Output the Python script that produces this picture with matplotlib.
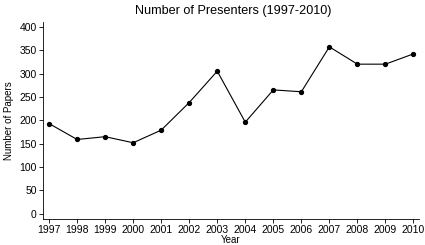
import matplotlib
matplotlib.use('Agg')
import matplotlib.pyplot as plt

# data
years = [1997, 1998, 1999, 2000, 2001, 2002, 2003, 2004, 2005, 2006, 2007, 2008, 2009, 2010]
presenters = [193, 159, 165, 152, 179, 238, 305, 196, 265, 261, 357, 320, 320, 342]
yticks = [0, 50, 100, 150, 200, 250, 300, 350, 400]

plt.rcParams['font.family'] = ['Liberation Sans', 'DejaVu Sans']

fig = plt.figure(figsize=(4.25, 2.45), dpi=100)
ax = fig.add_axes([0.101, 0.106, 0.885, 0.804])

ax.plot(years, presenters, color='black', linewidth=0.8, marker='o', markersize=2.8)

ax.set_xlim(1996.78, 2010.2)
ax.set_ylim(-11, 410)
ax.set_xticks(years)
ax.set_yticks(yticks)
ax.tick_params(labelsize=7.5, length=3, width=0.6, pad=1.5)

ax.spines['top'].set_visible(False)
ax.spines['right'].set_visible(False)
ax.spines['left'].set_linewidth(0.6)
ax.spines['bottom'].set_linewidth(0.6)

ax.set_xlabel('Year', fontsize=7, labelpad=-0.5)
ax.set_ylabel('Number of Papers', fontsize=7, labelpad=4)
ax.set_title('Number of Presenters (1997-2010)', fontsize=9.1, pad=6, x=0.507)

fig.savefig('out.png', dpi=100)
